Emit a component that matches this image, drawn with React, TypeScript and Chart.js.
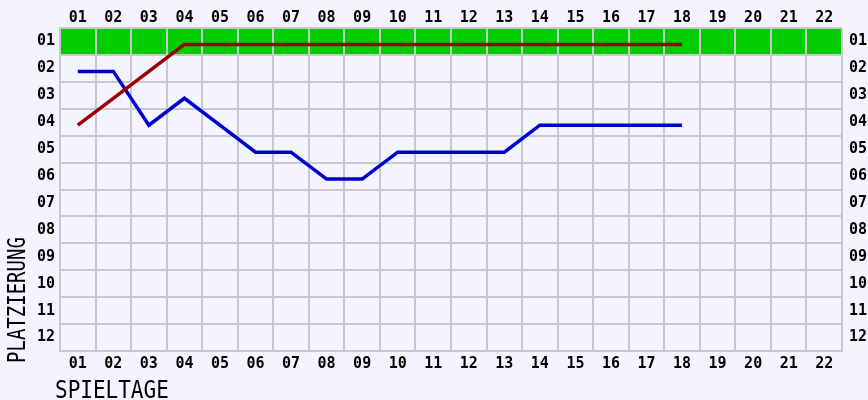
import React, { useEffect, useRef } from 'react';
import { Chart, registerables } from 'chart.js';

Chart.register(...registerables);

// ---- data ----
const spieltage = ['01', '02', '03', '04', '05', '06', '07', '08', '09', '10', '11', '12', '13', '14', '15', '16', '17', '18', '19', '20', '21', '22'];
const platzierungen = ['01', '02', '03', '04', '05', '06', '07', '08', '09', '10', '11', '12'];
const blueRanks = [2, 2, 4, 3, 4, 5, 5, 6, 6, 5, 5, 5, 5, 4, 4, 4, 4, 4];
const redRanks = [4, 3, 2, 1, 1, 1, 1, 1, 1, 1, 1, 1, 1, 1, 1, 1, 1, 1];
const highlightRank = 1;
const xTitle = 'SPIELTAGE';
const yTitle = 'PLATZIERUNG';

const BG = '#f4f4ff';
const GRID = '#c8c8d2';
const GREEN = '#00cc00';
const RED = '#990000';
const BLUE = '#0000cc';

const pad = (n: number) => (n < 10 ? '0' + n : String(n));

const tickFont = { family: "'DejaVu Sans Mono', monospace", size: 15, weight: 'bold' as const };

const bgPlugin = {
  id: 'bgBand',
  beforeDraw(chart: any) {
    const { ctx, chartArea, scales } = chart;
    ctx.save();
    ctx.fillStyle = BG;
    ctx.fillRect(0, 0, chart.width, chart.height);
    const y = scales.y;
    const idx = platzierungen.indexOf(pad(highlightRank));
    const c = y.getPixelForValue(idx);
    const half = Math.abs(y.getPixelForValue(1) - y.getPixelForValue(0)) / 2;
    ctx.fillStyle = GREEN;
    ctx.fillRect(chartArea.left, c - half, chartArea.right - chartArea.left, half * 2);
    ctx.restore();
  },
  beforeDatasetsDraw(chart: any) {
    chart.ctx.save();
    chart.ctx.translate(0, 3);
  },
  afterDatasetsDraw(chart: any) {
    chart.ctx.restore();
  },
  afterDraw(chart: any) {
    const { ctx, chartArea } = chart;
    ctx.save();
    ctx.fillStyle = '#000';
    ctx.textBaseline = 'middle';
    ctx.textAlign = 'left';
    // x title
    ctx.save();
    ctx.translate(55, 391);
    ctx.scale(1, 1.2);
    ctx.font = "21px 'DejaVu Sans Mono', monospace";
    ctx.fillText(xTitle, 0, 0);
    ctx.restore();
    // y title
    ctx.save();
    ctx.translate(19, chartArea.bottom + 12);
    ctx.rotate(-Math.PI / 2);
    ctx.scale(1, 1.3);
    ctx.font = "19px 'DejaVu Sans Mono', monospace";
    ctx.fillText(yTitle, 0, 0);
    ctx.restore();
    ctx.restore();
  },
};

export default function App() {
  const ref = useRef<HTMLCanvasElement | null>(null);

  useEffect(() => {
    if (!ref.current) return;
    const chart = new Chart(ref.current, {
      type: 'line',
      data: {
        labels: spieltage,
        datasets: [
          {
            label: 'rot',
            data: redRanks.map(pad),
            borderColor: RED,
            borderWidth: 3.5,
            pointRadius: 0,
            tension: 0,
            xAxisID: 'x',
            yAxisID: 'y',
          },
          {
            label: 'blau',
            data: blueRanks.map(pad),
            borderColor: BLUE,
            borderWidth: 3.5,
            pointRadius: 0,
            tension: 0,
            xAxisID: 'x',
            yAxisID: 'y',
          },
        ],
      },
      options: {
        animation: false,
        responsive: true,
        maintainAspectRatio: false,
        layout: { padding: 0 },
        plugins: { legend: { display: false }, tooltip: { enabled: false }, title: { display: false } },
        scales: {
          x: {
            type: 'category',
            position: 'bottom',
            offset: true,
            grid: { offset: true, color: GRID, lineWidth: 2, drawTicks: false },
            border: { display: true, color: GRID, width: 2 },
            ticks: { color: '#000', font: tickFont, padding: 4, maxRotation: 0, autoSkip: false },
            afterFit: (s: any) => { s.height = 49; },
          },
          x2: {
            type: 'category',
            position: 'top',
            labels: spieltage,
            offset: true,
            grid: { display: false, drawTicks: false },
            border: { display: false },
            ticks: { color: '#000', font: tickFont, padding: 1, maxRotation: 0, autoSkip: false },
            afterFit: (s: any) => { s.height = 28; },
          },
          y: {
            type: 'category',
            position: 'left',
            labels: platzierungen,
            offset: true,
            grid: { offset: true, color: GRID, lineWidth: 2, drawTicks: false },
            border: { display: true, color: GRID, width: 2 },
            ticks: { color: '#000', font: tickFont, padding: 5, autoSkip: false },
            afterFit: (s: any) => { s.width = 60; },
          },
          y2: {
            type: 'category',
            position: 'right',
            labels: platzierungen,
            offset: true,
            grid: { display: false, drawTicks: false },
            border: { display: false },
            ticks: { color: '#000', font: tickFont, padding: 7, autoSkip: false },
            afterFit: (s: any) => { s.width = 26; },
          },
        },
      },
      plugins: [bgPlugin],
    });
    return () => chart.destroy();
  }, []);

  return (
    <div style={{ position: 'fixed', left: 0, top: 0, width: 868, height: 400, background: BG }}>
      <canvas ref={ref} />
    </div>
  );
}
